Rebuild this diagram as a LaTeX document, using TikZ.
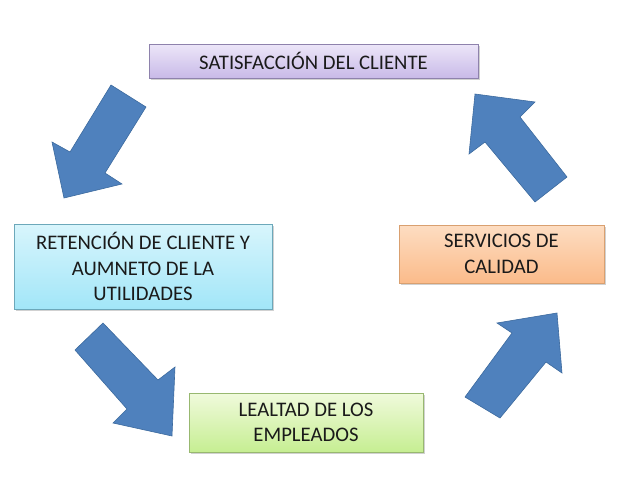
\documentclass[tikz,border=0pt]{standalone}
\usepackage{fontspec}
\setmainfont{Carlito}
\usetikzlibrary{shadows}
\definecolor{flecha}{HTML}{4F81BD}
\definecolor{flechaborde}{HTML}{3C6A9E}
\definecolor{texto}{HTML}{1A1A1A}
\definecolor{moradoA}{HTML}{ECE6F8}
\definecolor{moradoB}{HTML}{C9BAE8}
\definecolor{moradoC}{HTML}{8E82AC}
\definecolor{azulA}{HTML}{D8F5FC}
\definecolor{azulB}{HTML}{A2E6F8}
\definecolor{azulC}{HTML}{6CA8BA}
\definecolor{naranjaA}{HTML}{FDDDC2}
\definecolor{naranjaB}{HTML}{FBBB8A}
\definecolor{naranjaC}{HTML}{D9A070}
\definecolor{verdeA}{HTML}{F0FADC}
\definecolor{verdeB}{HTML}{C6EE92}
\definecolor{verdeC}{HTML}{98B870}

\tikzset{
caja/.style={draw, line width=0.6pt, minimum height=#1, inner sep=0pt, align=center,
  text=texto, font=\fontsize{20.7}{25.3}\selectfont,
  drop shadow={shadow xshift=1.5pt, shadow yshift=-2pt, opacity=0.18, fill=black}},
flechazul/.style={fill=flecha, draw=flechaborde, line width=0.6pt, line join=miter}
}

\begin{document}
\begin{tikzpicture}[x=1pt,y=-1pt]
\useasboundingbox (0,0) rectangle (638,479);
{
\node[caja=34pt, minimum width=329pt, draw=moradoC, top color=moradoA, bottom color=moradoB] (satis) at (313.5,61) {SATISFACCI\'ON DEL CLIENTE};
\node[caja=85pt, minimum width=258pt, draw=azulC, top color=azulA, bottom color=azulB] (reten) at (143,266.5) {RETENCI\'ON DE CLIENTE Y\\AUMNETO DE LA\\UTILIDADES};
\node[caja=58pt, minimum width=205pt, draw=naranjaC, top color=naranjaA, bottom color=naranjaB] (serv) at (501.5,254) {SERVICIOS DE\\CALIDAD};
\node[caja=59pt, minimum width=234pt, draw=verdeC, top color=verdeA, bottom color=verdeB] (leal) at (306,422.5) {LEALTAD DE LOS\\EMPLEADOS};

\draw[flechazul] (111,85) -- (146,107) -- (105,173) -- (122,184) -- (64,198) -- (52,142) -- (70,152) -- cycle;
\draw[flechazul] (103,323) -- (158,380) -- (175,367) -- (172,436) -- (113,423) -- (127,409) -- (75,350) -- cycle;
\draw[flechazul] (465,397) -- (500,418) -- (546,362) -- (562,373) -- (557,313) -- (497,323) -- (512,333) -- cycle;
\draw[flechazul] (535,202) -- (567,177) -- (520,117) -- (535,102) -- (475,94) -- (469,154) -- (485,142) -- cycle;
}
\end{tikzpicture}
\end{document}
